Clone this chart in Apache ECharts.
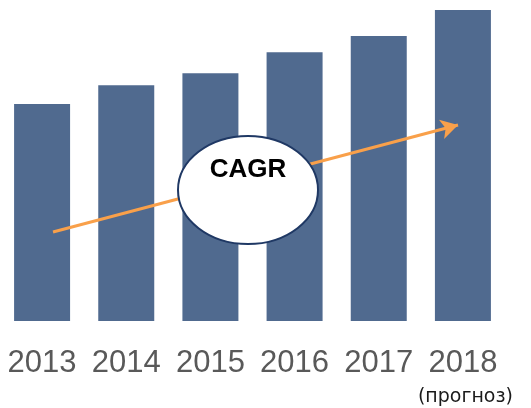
<!DOCTYPE html>
<html>
<head>
<meta charset="utf-8">
<script src="https://cdn.jsdelivr.net/npm/echarts@6/dist/echarts.min.js"></script>
<style>
  html, body { margin: 0; padding: 0; background: #fff; }
  #main { width: 531px; height: 408px; }
</style>
</head>
<body>
<div id="main"></div>
<script>
// годы и значения (в % от 2018)
var years = ['2013', '2014', '2015', '2016', '2017', '2018'];
var values = [69.8, 75.8, 79.7, 86.4, 91.6, 100];
var forecastNote = ['(прогноз)'];
var badgeText = ['CAGR'];

var chart = echarts.init(document.getElementById('main'), null, { renderer: 'canvas' });

var option = {
  backgroundColor: '#ffffff',
  animation: false,
  grid: { left: -3, width: 508, top: 10, bottom: 87 },
  xAxis: {
    type: 'category',
    data: years,
    axisLine: { show: false },
    axisTick: { show: false },
    axisLabel: {
      interval: 0,
      margin: 27,
      fontSize: 31,
      fontFamily: 'Liberation Sans, sans-serif',
      color: '#595959'
    }
  },
  yAxis: {
    type: 'value',
    min: 0,
    max: 100,
    show: false,
    splitLine: { show: false }
  },
  series: [{
    type: 'bar',
    data: values,
    barWidth: 56,
    itemStyle: { color: '#506A8F' },
    markLine: {
      silent: true,
      symbol: ['none', 'arrow'],
      symbolSize: [15, 17],
      label: { show: false },
      lineStyle: { color: '#F9A04A', width: 3, type: 'solid' },
      data: [[{ x: 53, y: 232 }, { x: 458, y: 125 }]]
    }
  }],
  graphic: [
    {
      type: 'ellipse',
      shape: { cx: 248, cy: 190, rx: 70, ry: 54 },
      style: { fill: '#ffffff', stroke: '#1F3864', lineWidth: 2 },
      z: 100
    },
    {
      type: 'text',
      x: 248,
      y: 170,
      style: {
        text: badgeText[0],
        fill: '#000000',
        font: 'bold 26px Liberation Sans, Arial, sans-serif',
        align: 'center',
        verticalAlign: 'middle'
      },
      z: 101
    },
    {
      type: 'text',
      x: 513,
      y: 397,
      style: {
        text: forecastNote[0],
        fill: '#1a1a1a',
        font: '19px DejaVu Sans, sans-serif',
        align: 'right',
        verticalAlign: 'middle'
      },
      z: 101
    }
  ]
};

chart.setOption(option);
</script>
</body>
</html>
